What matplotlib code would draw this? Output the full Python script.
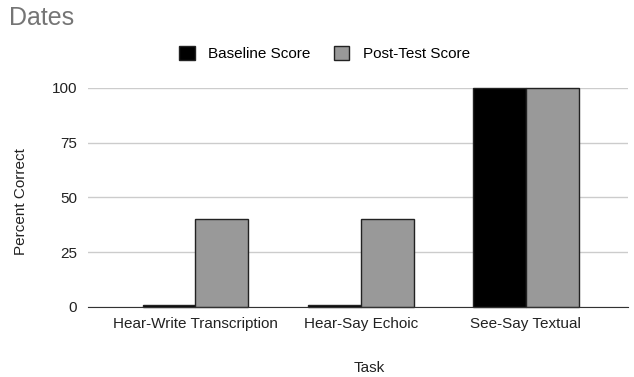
import numpy as np
import matplotlib
matplotlib.use('Agg')
import matplotlib.pyplot as plt

plt.rcParams['font.family'] = ['Liberation Sans', 'DejaVu Sans']

tasks = ['Hear-Write Transcription', 'Hear-Say Echoic', 'See-Say Textual']
baseline = [1, 1, 100]
posttest = [40, 40, 100]
yticks = [0, 25, 50, 75, 100]

fig = plt.figure(figsize=(6.34, 3.77), dpi=100)
ax = fig.add_axes([0.139, 0.186, 0.852, 0.581])

x = np.arange(len(tasks))
w = 0.32
ax.bar(x - w/2, baseline, w, color='#000000', edgecolor='#222222', linewidth=1,
       label='Baseline Score', zorder=3, clip_on=False)
ax.bar(x + w/2, posttest, w, color='#999999', edgecolor='#222222', linewidth=1,
       label='Post-Test Score', zorder=3, clip_on=False)

ax.set_xlim(-0.65, 2.62)
ax.set_ylim(0, 100)
ax.set_yticks(yticks)
ax.set_xticks(x)
ax.set_xticklabels(tasks)
ax.tick_params(axis='both', length=0, labelsize=11, colors='#222222', pad=8)
ax.tick_params(axis='x', pad=7)
ax.grid(axis='y', color='#cccccc', linewidth=1, zorder=0)
for s in ['top', 'right', 'left']:
    ax.spines[s].set_visible(False)
ax.spines['bottom'].set_color('#333333')
ax.spines['bottom'].set_zorder(4)

ax.set_xlabel('Task', fontsize=11, color='#222222')
ax.set_ylabel('Percent Correct', fontsize=11, color='#222222')
ax.xaxis.set_label_coords(0.52, -0.245)
ax.yaxis.set_label_coords(-0.112, 0.48)

fig.text(0.014, 0.952, 'Dates', fontsize=18, color='#757575', va='center', ha='left')
fig.legend(loc='center', bbox_to_anchor=(0.512, 0.857), ncol=2, frameon=False,
           fontsize=11, handlelength=1.0, handleheight=1.0, columnspacing=1.5,
           handletextpad=0.9)

fig.savefig('out.png', dpi=100)
